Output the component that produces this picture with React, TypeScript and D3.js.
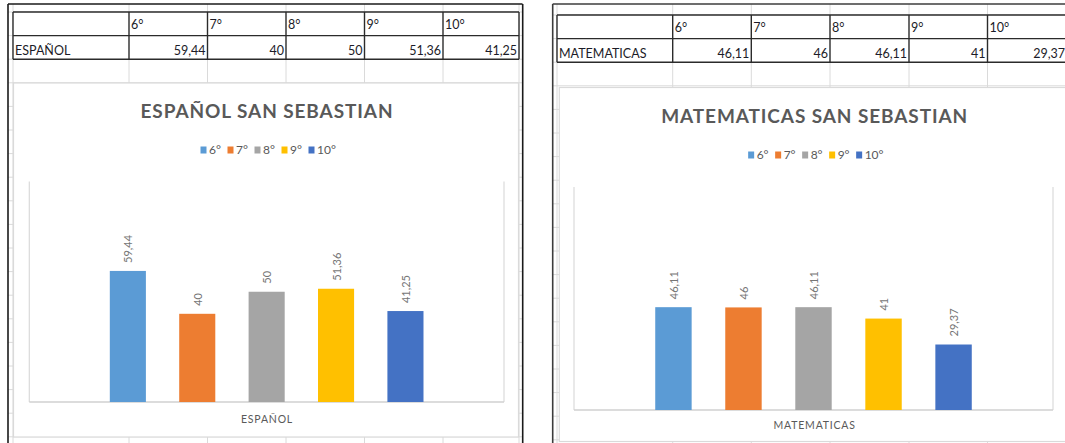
import React from "react";
import * as d3 from "d3";

// grades shown in the table header, legend and bars
const grades = ["6°", "7°", "8°", "9°", "10°"];
const espanolValues = [59.44, 40, 50, 51.36, 41.25];
const matematicasValues = [46.11, 46, 46.11, 41, 29.37];
const barColors = ["#5b9bd5", "#ed7d31", "#a5a5a5", "#ffc000", "#4472c4"];
const yDomain = [0, 100]; // hidden value axis

const fmt = (v: number) => String(v).replace(".", ",");

const GRID = "#dadada";
const FONT = "Lato, 'Open Sans', sans-serif";

interface Box {
  x0: number;
  y0: number;
  x1: number;
  y1: number;
}

interface PanelProps {
  subject: string;
  title: string;
  values: number[];
  lineX: number;
  lineColor: string;
  rightX: number;
  colX: number[];
  rowTop: number;
  rowH: number;
  chart: Box;
  plot: Box;
  titleY: number;
  legendY: number;
  axisTitleY: number;
}

const Panel: React.FC<PanelProps> = (p) => {
  const x = d3
    .scaleBand<string>()
    .domain(grades)
    .range([p.plot.x0, p.plot.x1])
    .paddingInner(0.48)
    .paddingOuter(1.16);
  const y = d3.scaleLinear().domain(yDomain).range([p.plot.y1, p.plot.y0]);

  const rows = d3.range(0, 20).map((k) => p.rowTop + k * p.rowH).filter((v) => v < 443);
  const cx = (p.chart.x0 + p.chart.x1) / 2 + 1;

  // legend layout
  const keyW = 6;
  const itemStep = 27;
  const legendW = itemStep * (grades.length - 1) + 25;
  const legendX0 = cx - legendW / 2;

  const tTop = p.rowTop;
  const tMid = p.rowTop + p.rowH;
  const tBot = p.rowTop + 2 * p.rowH;

  return (
    <g>
      {/* spreadsheet grid */}
      {rows.map((ry, i) => (
        <line key={"r" + i} x1={p.lineX} x2={p.rightX} y1={ry} y2={ry} stroke={GRID} strokeWidth={1} />
      ))}
      {p.colX.map((c, i) => (
        <line key={"c" + i} x1={c} x2={c} y1={4} y2={443} stroke={GRID} strokeWidth={1} />
      ))}

      {/* chart object */}
      <rect
        x={p.chart.x0}
        y={p.chart.y0}
        width={p.chart.x1 - p.chart.x0}
        height={p.chart.y1 - p.chart.y0}
        fill="#fff"
        stroke={GRID}
        strokeWidth={1.2}
      />

      {/* table */}
      <rect x={p.colX[0]} y={tTop} width={p.colX[p.colX.length - 1] - p.colX[0]} height={tBot - tTop} fill="#fff" />
      {[tTop, tMid, tBot].map((ty, i) => (
        <line key={"th" + i} x1={p.colX[0]} x2={p.colX[p.colX.length - 1]} y1={ty} y2={ty} stroke="#2b2b2b" strokeWidth={1.4} />
      ))}
      {p.colX.map((c, i) => (
        <line key={"tv" + i} x1={c} x2={c} y1={tTop} y2={tBot} stroke="#2b2b2b" strokeWidth={1.4} />
      ))}
      {grades.map((g, i) => (
        <text key={"hd" + g} x={p.colX[i + 1] + 2} y={tTop + 17} fontFamily={FONT} fontSize={12.5} fill="#1c1c28">
          {g}
        </text>
      ))}
      <text x={p.colX[0] + 2} y={tBot - 4} fontFamily={FONT} fontSize={12.5} fill="#1c1c28">
        {p.subject}
      </text>
      {p.values.map((v, i) => (
        <text
          key={"tvv" + i}
          x={p.colX[i + 2] - 2}
          y={tBot - 4}
          textAnchor="end"
          fontFamily={FONT}
          fontSize={12.5}
          fill="#1c1c28"
        >
          {fmt(v)}
        </text>
      ))}

      {/* title */}
      <text
        x={cx}
        y={p.titleY}
        textAnchor="middle"
        fontFamily={FONT}
        fontWeight="bold"
        fontSize={19}
        letterSpacing={0.9}
        fill="#595959"
      >
        {p.title}
      </text>

      {/* legend */}
      {grades.map((g, i) => (
        <g key={"lg" + g} transform={`translate(${legendX0 + i * itemStep},${p.legendY})`}>
          <rect x={0} y={-3.5} width={keyW} height={7} fill={barColors[i]} />
          <text x={keyW + 2.5} y={4} fontFamily={FONT} fontSize={12} fill="#595959">
            {g}
          </text>
        </g>
      ))}

      {/* plot area frame */}
      <line x1={p.plot.x0} x2={p.plot.x0} y1={p.plot.y0} y2={p.plot.y1} stroke={GRID} strokeWidth={1.2} />
      <line x1={p.plot.x1} x2={p.plot.x1} y1={p.plot.y0} y2={p.plot.y1} stroke={GRID} strokeWidth={1.2} />
      <line x1={p.plot.x0} x2={p.plot.x1} y1={p.plot.y1} y2={p.plot.y1} stroke="#d0d0d0" strokeWidth={1.4} />

      {/* bars */}
      {p.values.map((v, i) => (
        <rect
          key={"b" + i}
          x={x(grades[i])}
          y={y(v)}
          width={x.bandwidth()}
          height={y(0) - y(v)}
          fill={barColors[i]}
        />
      ))}
      {p.values.map((v, i) => {
        const lx = (x(grades[i]) as number) + x.bandwidth() / 2;
        const ly = y(v) - 8;
        return (
          <text
            key={"bl" + i}
            transform={`translate(${lx},${ly}) rotate(-90)`}
            dominantBaseline="central"
            fontFamily={FONT}
            fontSize={11}
            fill="#767676"
          >
            {fmt(v)}
          </text>
        );
      })}

      {/* category axis title */}
      <text
        x={cx}
        y={p.axisTitleY}
        textAnchor="middle"
        fontFamily={FONT}
        fontSize={10.5}
        letterSpacing={0.8}
        fill="#595959"
      >
        {p.subject}
      </text>

      {/* sheet border */}
      <line x1={p.lineX} x2={p.lineX} y1={4} y2={443} stroke={p.lineColor} strokeWidth={1.6} />
      <line x1={p.lineX} x2={p.rightX} y1={4} y2={4} stroke={p.lineColor} strokeWidth={1.4} />
    </g>
  );
};

export default function App() {
  return (
    <div style={{ position: "absolute", left: 0, top: 0 }}>
      <svg width={1065} height={443} style={{ display: "block", background: "#fff" }}>
        <Panel
          subject="ESPAÑOL"
          title="ESPAÑOL SAN SEBASTIAN"
          values={espanolValues}
          lineX={8}
          lineColor="#1a1a1a"
          rightX={522.5}
          colX={[13, 129, 207.5, 286, 364.5, 443, 519]}
          rowTop={12}
          rowH={23.6}
          chart={{ x0: 13.5, y0: 83, x1: 518.5, y1: 437 }}
          plot={{ x0: 29.3, y0: 181.5, x1: 504, y1: 402 }}
          titleY={118}
          legendY={150}
          axisTitleY={423}
        />
        <line x1={522.7} x2={522.7} y1={4} y2={443} stroke="#1a1a1a" strokeWidth={1.6} />
        <Panel
          subject="MATEMATICAS"
          title="MATEMATICAS SAN SEBASTIAN"
          values={matematicasValues}
          lineX={552.7}
          lineColor="#3c3c3c"
          rightX={1065}
          colX={[557, 672.7, 751.3, 830, 909, 987.5, 1067]}
          rowTop={15}
          rowH={23.6}
          chart={{ x0: 559.3, y0: 87.5, x1: 1068, y1: 441.5 }}
          plot={{ x0: 574, y0: 187, x1: 1053, y1: 410 }}
          titleY={123}
          legendY={155}
          axisTitleY={428.5}
        />
      </svg>
    </div>
  );
}
